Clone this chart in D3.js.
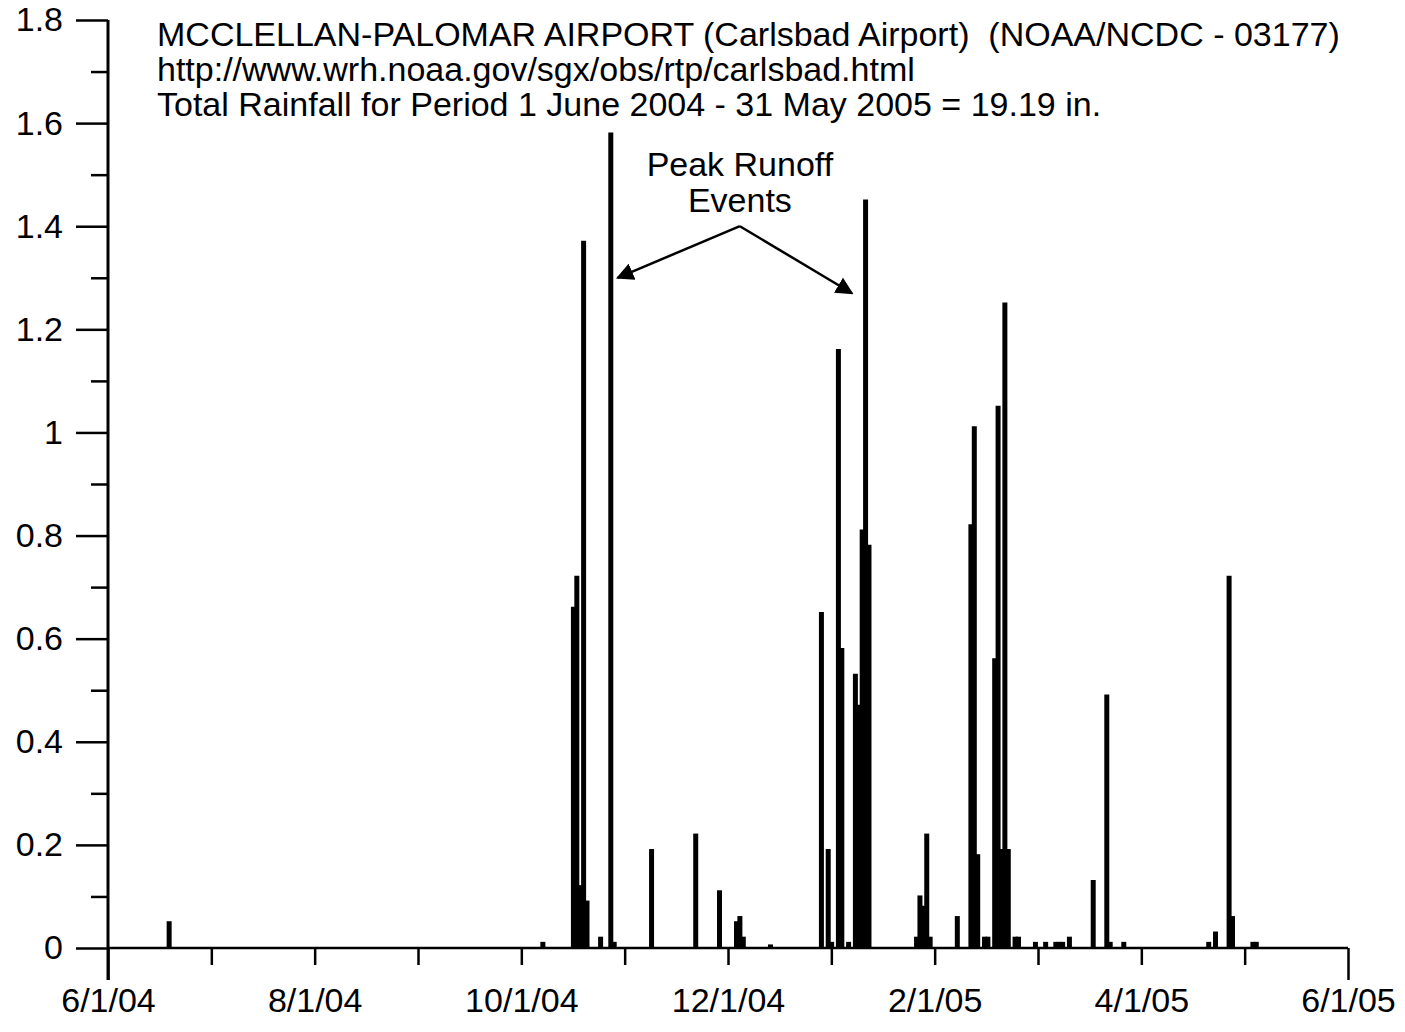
<!DOCTYPE html>
<html>
<head>
<meta charset="utf-8">
<script src="https://cdn.jsdelivr.net/npm/d3@7"></script>
<style>
  body { margin: 0; background: #fff; }
  svg { display: block; font-family: Arial, "Liberation Sans", sans-serif; }
  .title text { white-space: pre; }
</style>
</head>
<body>
<svg id="chart" width="1405" height="1032"></svg>
<script>
// daily rainfall (inches), Carlsbad airport
const rainDates = [
  "2004-06-19", "2004-10-07", "2004-10-16", "2004-10-17", "2004-10-18", "2004-10-19", "2004-10-20",
  "2004-10-24", "2004-10-27", "2004-10-28", "2004-11-08", "2004-11-21", "2004-11-28",
  "2004-12-03", "2004-12-04", "2004-12-05", "2004-12-13", "2004-12-28", "2004-12-30", "2004-12-31",
  "2005-01-02", "2005-01-03", "2005-01-05", "2005-01-07", "2005-01-08", "2005-01-09", "2005-01-10",
  "2005-01-11", "2005-01-25", "2005-01-26", "2005-01-27", "2005-01-28", "2005-01-29",
  "2005-02-06", "2005-02-10", "2005-02-11", "2005-02-12", "2005-02-14", "2005-02-15",
  "2005-02-17", "2005-02-18", "2005-02-19", "2005-02-20", "2005-02-21", "2005-02-23", "2005-02-24",
  "2005-03-01", "2005-03-04", "2005-03-07", "2005-03-08", "2005-03-09", "2005-03-11",
  "2005-03-18", "2005-03-22", "2005-03-23", "2005-03-27",
  "2005-04-21", "2005-04-23", "2005-04-27", "2005-04-28", "2005-05-04", "2005-05-05"
];
const rainValues = [
  0.05, 0.01, 0.66, 0.72, 0.12, 1.37, 0.09,
  0.02, 1.58, 0.01, 0.19, 0.22, 0.11,
  0.05, 0.06, 0.02, 0.005, 0.65, 0.19, 0.01,
  1.16, 0.58, 0.01, 0.53, 0.47, 0.81, 1.45,
  0.78, 0.02, 0.10, 0.08, 0.22, 0.02,
  0.06, 0.82, 1.01, 0.18, 0.02, 0.02,
  0.56, 1.05, 0.19, 1.25, 0.19, 0.02, 0.02,
  0.01, 0.01, 0.01, 0.01, 0.01, 0.02,
  0.13, 0.49, 0.01, 0.01,
  0.01, 0.03, 0.72, 0.06, 0.01, 0.01
];

const yMajorTicks = [0, 0.2, 0.4, 0.6, 0.8, 1, 1.2, 1.4, 1.6, 1.8];
const yMinorTicks = [0.1, 0.3, 0.5, 0.7, 0.9, 1.1, 1.3, 1.5, 1.7];
const xTickLabels = ["6/1/04", "8/1/04", "10/1/04", "12/1/04", "2/1/05", "4/1/05", "6/1/05"];

const titleLines = [
  "MCCLELLAN-PALOMAR AIRPORT (Carlsbad Airport)  (NOAA/NCDC - 03177)",
  "http://www.wrh.noaa.gov/sgx/obs/rtp/carlsbad.html",
  "Total Rainfall for Period 1 June 2004 - 31 May 2005 = 19.19 in."
];
const noteLines = ["Peak Runoff", "Events"];
const arrowApex = { date: "2004-12-04", value: 1.40 };
const arrowTips = [
  { date: "2004-10-29", value: 1.30 },
  { date: "2005-01-06", value: 1.27 }
];

const parse = d3.timeParse("%Y-%m-%d");
const svg = d3.select("#chart");
const margin = { top: 20, right: 57, bottom: 84, left: 108 };
const W = +svg.attr("width"), H = +svg.attr("height");
const x0 = parse("2004-06-01"), x1 = parse("2005-06-01");

const x = d3.scaleTime().domain([x0, x1]).range([margin.left, W - margin.right]);
const y = d3.scaleLinear().domain([0, 1.8]).range([H - margin.bottom, margin.top]);

const rain = rainDates.map((d, i) => ({ date: parse(d), value: rainValues[i] }));

// bars as thick vertical strokes
svg.append("g")
  .selectAll("line")
  .data(rain)
  .join("line")
  .attr("x1", d => x(d.date))
  .attr("x2", d => x(d.date))
  .attr("y1", y(0))
  .attr("y2", d => y(d.value) - 1)
  .attr("stroke", "#000")
  .attr("stroke-width", 5);

// y axis: major + minor ticks
const yMajor = svg.append("g")
  .attr("transform", `translate(${margin.left},0)`)
  .call(d3.axisLeft(y).tickValues(yMajorTicks).tickSize(32).tickPadding(13)
    .tickFormat(d => d3.format("")(+d.toFixed(1))));
yMajor.select(".domain").remove();

const yMinor = svg.append("g")
  .attr("transform", `translate(${margin.left},0)`)
  .call(d3.axisLeft(y).tickValues(yMinorTicks).tickSize(17).tickFormat(""));
yMinor.select(".domain").remove();

// x axis: 12 evenly spaced ticks, labels every other one
const span = x1 - x0;
const xTicks = d3.range(13).map(k => new Date(+x0 + k * span / 12));
const xAxis = svg.append("g")
  .attr("transform", `translate(0,${y(0)})`)
  .call(d3.axisBottom(x).tickValues(xTicks).tickSize(17).tickPadding(23)
    .tickFormat((d, i) => i % 2 === 0 ? xTickLabels[i / 2] : ""));
xAxis.select(".domain").remove();
xAxis.selectAll(".tick line").filter((d, i) => i === 0 || i === 12).attr("y2", 32);

svg.selectAll(".tick line").attr("stroke", "#000").attr("stroke-width", 2.5);
svg.selectAll(".tick text").attr("font-size", 34).attr("fill", "#000")
  .attr("font-family", "Arial, 'Liberation Sans', sans-serif");

// axis lines
svg.append("line")
  .attr("x1", margin.left).attr("x2", margin.left)
  .attr("y1", y(1.8)).attr("y2", y(0) + 32)
  .attr("stroke", "#000").attr("stroke-width", 3);
svg.append("line")
  .attr("x1", margin.left).attr("x2", W - margin.right)
  .attr("y1", y(0)).attr("y2", y(0))
  .attr("stroke", "#000").attr("stroke-width", 2.5);

// title block
svg.append("g")
  .attr("class", "title")
  .selectAll("text")
  .data(titleLines)
  .join("text")
  .attr("x", 157)
  .attr("y", (d, i) => 46 + i * 35)
  .attr("font-size", 34)
  .text(d => d);

// annotation
const ax = x(parse(arrowApex.date));
svg.append("g")
  .selectAll("text")
  .data(noteLines)
  .join("text")
  .attr("x", ax)
  .attr("y", (d, i) => y(arrowApex.value) - 50 + i * 36)
  .attr("text-anchor", "middle")
  .attr("font-size", 34)
  .text(d => d);

svg.append("defs").append("marker")
  .attr("id", "head")
  .attr("viewBox", "0 0 10 10")
  .attr("refX", 9).attr("refY", 5)
  .attr("markerWidth", 7).attr("markerHeight", 7)
  .attr("orient", "auto")
  .append("path")
  .attr("d", "M0,0L10,5L0,10Z")
  .attr("fill", "#000");

svg.append("g")
  .selectAll("line")
  .data(arrowTips)
  .join("line")
  .attr("x1", ax)
  .attr("y1", y(arrowApex.value))
  .attr("x2", d => x(parse(d.date)))
  .attr("y2", d => y(d.value))
  .attr("stroke", "#000")
  .attr("stroke-width", 2.5)
  .attr("marker-end", "url(#head)");
</script>
</body>
</html>
